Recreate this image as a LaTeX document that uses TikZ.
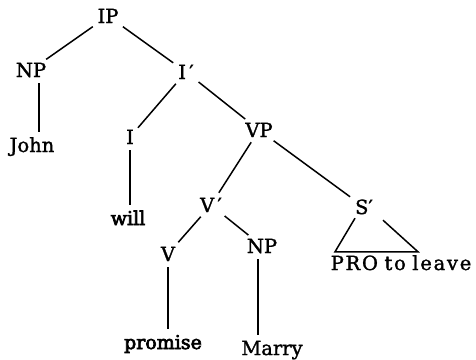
\documentclass[tikz,border=0pt]{standalone}
\usepackage{fontspec}
\setmainfont{DejaVu Serif}[FakeBold=1.5]
\newfontfamily\heavyfont{DejaVu Serif}[FakeBold=3.5]
\begin{document}
\begin{tikzpicture}[x=1pt,y=-1pt,
  lbl/.style={inner sep=0pt, text height=14pt, text depth=0pt, font=\fontsize{19.5}{22}\selectfont},
  heavy/.style={font=\fontsize{19}{22}\heavyfont},
  edge/.style={line width=1.5pt, shorten <=6pt, shorten >=6pt}]
\useasboundingbox (0,0) rectangle (476,359);
\node[lbl] (ip) at (108,16) {IP};
\node[lbl] (np1) at (31,70) {NP};
\node[lbl] (john) at (32,145) {John};
\node[lbl] (ibar) at (186,72) {I\,′};
\node[lbl] (i) at (130,137) {I};
\node[lbl,heavy] (will) at (128,218) {will};
\node[lbl] (vp) at (259,130) {VP};
\node[lbl] (vbar) at (211,205) {V\,′};
\node[lbl] (v) at (168,254) {V};
\node[lbl] (np2) at (262,246) {NP};
\node[lbl] (sbar) at (364,207) {S′};
\node[lbl,font=\fontsize{19.5}{22}\selectfont\addfontfeature{LetterSpace=9}] (pro) at (401,263) {PRO\,\,to\,\,leave};
\node[lbl,heavy] (promise) at (163,342) {promise};
\node[lbl] (marry) at (272,348) {Marry};
\draw[edge] (ip) -- (np1);
\draw[edge] (ip) -- (ibar);
\draw[edge] ([xshift=8pt]np1.south) -- ([xshift=8pt]np1.south |- john.north);
\draw[edge] (ibar) -- (i);
\draw[edge] (ibar) -- (vp);
\draw[edge] (i.south) -- (i.south |- will.north);
\draw[edge] (vp) -- (vbar);
\draw[edge] (vp) -- (sbar);
\draw[edge] (vbar) -- (v);
\draw[edge] (vbar) -- (np2);
\draw[edge] (v.south) -- (v.south |- promise.north);
\draw[edge] ([xshift=-4pt]np2.south) -- ([xshift=-4pt]np2.south |- marry.north);
\draw[line width=1.5pt] ([xshift=-9pt,yshift=-4pt]sbar.south) -- ([xshift=-66pt,yshift=4pt]pro.north) -- ([xshift=17pt,yshift=4pt]pro.north) -- ([xshift=19pt,yshift=-6pt]sbar.south);
\end{tikzpicture}
\end{document}
